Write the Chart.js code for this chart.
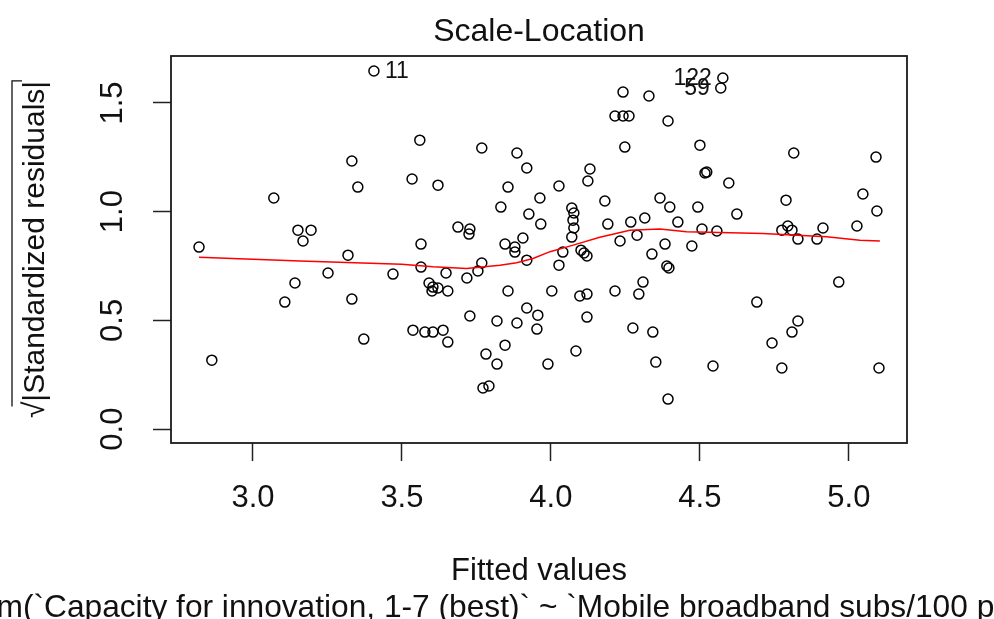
<!DOCTYPE html>
<html>
<head>
<meta charset="utf-8">
<script src="https://cdn.jsdelivr.net/npm/chart.js@4"></script>
<style>
  html, body { margin: 0; padding: 0; background: #fff; }
  canvas { display: block; }
</style>
</head>
<body>
<canvas id="slChart" width="994" height="619"></canvas>
<script>
const fitted = [
  2.819, 2.862, 3.070, 3.107, 3.141, 3.151, 3.195, 3.168, 3.252, 3.319,
  3.332, 3.352, 3.332, 3.372, 3.406, 3.470, 3.534, 3.537, 3.560, 3.564,
  3.564, 3.577, 3.604, 3.638, 3.654, 3.591, 3.604, 3.601, 3.621, 3.654,
  3.621, 3.648, 3.688, 3.728, 3.725, 3.718, 3.728, 3.755, 3.768, 3.768,
  3.772, 3.792, 3.782, 3.819, 3.819, 3.832, 3.846, 3.846, 3.856, 3.856,
  3.879, 3.879, 3.886, 3.886, 3.906, 3.919, 3.919, 3.919, 3.926, 3.956,
  3.953, 3.963, 3.966, 3.990, 4.003, 4.027, 4.027, 4.040, 4.070, 4.077,
  4.074, 4.077, 4.070, 4.084, 4.097, 4.121, 4.101, 4.111, 4.121, 4.121,
  4.124, 4.131, 4.181, 4.191, 4.215, 4.215, 4.242, 4.262, 4.242, 4.232,
  4.248, 4.268, 4.275, 4.289, 4.295, 4.309, 4.315, 4.329, 4.339, 4.342,
  4.352, 4.366, 4.383, 4.389, 4.396, 4.393, 4.393, 4.399, 4.426, 4.473,
  4.493, 4.500, 4.507, 4.517, 4.523, 4.544, 4.557, 4.570, 4.577, 4.597,
  4.624, 4.691, 4.742, 4.775, 4.775, 4.789, 4.795, 4.809, 4.809, 4.815,
  4.829, 4.829, 4.893, 4.913, 4.966, 5.027, 5.047, 5.091, 5.094, 5.101
];
const sqrtStdRes = [
  0.837, 0.317, 1.063, 0.584, 0.672, 0.915, 0.915, 0.865, 0.718, 0.800,
  1.233, 1.113, 0.598, 0.414, 1.647, 0.713, 1.150, 0.455, 1.329, 0.851,
  0.745, 0.446, 0.446, 0.455, 0.400, 0.672, 0.653, 0.635, 0.649, 0.635,
  1.122, 0.718, 0.929, 0.920, 0.897, 0.695, 0.520, 0.727, 0.764, 1.293,
  0.189, 0.198, 0.345, 0.299, 0.497, 1.021, 0.851, 0.386, 1.113, 0.635,
  0.837, 0.814, 1.270, 0.488, 0.879, 1.201, 0.777, 0.557, 0.989, 0.524,
  0.460, 1.063, 0.943, 0.299, 0.635, 1.118, 0.754, 0.814, 1.017, 0.994,
  0.961, 0.925, 0.883, 0.359, 0.612, 0.621, 0.823, 0.810, 0.796, 0.515,
  1.141, 1.196, 1.049, 0.943, 0.635, 1.440, 1.440, 1.440, 1.550, 0.865,
  1.297, 0.952, 0.465, 0.892, 0.621, 0.676, 0.971, 1.532, 0.805, 0.446,
  0.308, 1.063, 0.851, 0.750, 0.741, 1.417, 0.138, 1.021, 0.952, 0.842,
  1.021, 1.306, 0.920, 1.178, 1.182, 0.290, 0.911, 1.569, 1.615, 1.132,
  0.989, 0.584, 0.396, 0.915, 0.281, 1.053, 0.934, 0.915, 0.446, 1.270,
  0.874, 0.497, 0.874, 0.925, 0.676, 0.934, 1.081, 1.251, 1.003, 0.281
];
// red smoother (panel.smooth)
const loessX = [2.819, 3.158, 3.499, 3.604, 3.717, 3.829, 3.885, 3.940, 3.997,
  4.075, 4.164, 4.265, 4.366, 4.455, 4.711, 4.925, 5.037, 5.104];
const loessY = [0.790, 0.773, 0.758, 0.747, 0.739, 0.754, 0.765, 0.785, 0.816,
  0.846, 0.882, 0.915, 0.920, 0.908, 0.900, 0.885, 0.869, 0.865];
const xTicks = [3.0, 3.5, 4.0, 4.5, 5.0];
const yTicks = [0.0, 0.5, 1.0, 1.5];
const idIndex = [14, 117, 118];
const idLabels = ["11", "59", "122"];

const FONT = '"Liberation Sans", Arial, sans-serif';
const INK = "#111";

const rExtras = {
  id: "rExtras",
  afterDraw(chart) {
    const { ctx, chartArea: a, scales: { x, y } } = chart;
    ctx.save();

    // box round the plot region
    ctx.strokeStyle = "#1a1a1a";
    ctx.lineWidth = 1.8;
    ctx.strokeRect(a.left, a.top, a.right - a.left, a.bottom - a.top);

    // y tick labels, rotated like R's las=0
    ctx.fillStyle = INK;
    ctx.font = "31px " + FONT;
    ctx.textAlign = "center";
    ctx.textBaseline = "middle";
    yTicks.forEach(v => {
      ctx.save();
      ctx.translate(a.left - 58, y.getPixelForValue(v));
      ctx.rotate(-Math.PI / 2);
      ctx.fillText(v.toFixed(1), 0, 0);
      ctx.restore();
    });

    // overbar of the square root in the y title
    const tfs = 30;
    ctx.font = tfs + "px " + FONT;
    const ttl = y.options.title.text;
    const w = ctx.measureText(ttl).width;
    const wr = ctx.measureText("\u221A").width;
    const cy = (a.top + a.bottom) / 2;
    const bx = 36 - 0.8 * tfs;
    ctx.lineWidth = 1.3;
    ctx.strokeStyle = INK;
    ctx.beginPath();
    ctx.moveTo(bx, cy + w / 2 - wr * 0.7);
    ctx.lineTo(bx, cy - w / 2);
    ctx.lineTo(bx + 10, cy - w / 2);
    ctx.stroke();

    // ids of the largest residuals
    const mid = (Math.min(...fitted) + Math.max(...fitted)) / 2;
    ctx.font = "23px " + FONT;
    idIndex.forEach((i, k) => {
      const px = x.getPixelForValue(fitted[i]);
      const py = y.getPixelForValue(sqrtStdRes[i]);
      const right = fitted[i] < mid;
      ctx.textAlign = right ? "left" : "right";
      ctx.fillText(idLabels[k], px + (right ? 11 : -11), py + 1);
    });

    // sub caption (model formula), runs off the figure like the original
    ctx.font = "31.7px " + FONT;
    ctx.textAlign = "left";
    ctx.textBaseline = "alphabetic";
    const cap = "lm(`Capacity for innovation, 1-7 (best)` ~ `Mobile broadband subs/100 pop`)";
    ctx.fillText(cap, 44 - ctx.measureText("lm(`").width, 617);

    ctx.restore();
  }
};

new Chart(document.getElementById("slChart"), {
  type: "scatter",
  data: {
    datasets: [
      {
        type: "line",
        data: loessX.map((v, i) => ({ x: v, y: loessY[i] })),
        borderColor: "#ff0000",
        borderWidth: 1.5,
        pointRadius: 0,
        tension: 0,
        fill: false
      },
      {
        data: fitted.map((v, i) => ({ x: v, y: sqrtStdRes[i] })),
        pointStyle: "circle",
        pointRadius: 5,
        backgroundColor: "rgba(0,0,0,0)",
        borderColor: "#000",
        borderWidth: 1.5
      }
    ]
  },
  options: {
    responsive: false,
    animation: false,
    devicePixelRatio: 1,
    layout: { padding: { left: 0, right: 87, top: 0, bottom: 0 } },
    plugins: {
      legend: { display: false },
      tooltip: { enabled: false },
      title: {
        display: true,
        fullSize: false,
        text: "Scale-Location",
        color: INK,
        font: { family: FONT, size: 32, weight: "normal" },
        padding: { top: 13, bottom: 4.6 }
      }
    },
    scales: {
      x: {
        type: "linear",
        min: 2.725,
        max: 5.195,
        afterBuildTicks: s => { s.ticks = xTicks.map(v => ({ value: v })); },
        afterFit: s => { s.height = 176; },
        border: { display: false },
        grid: { drawOnChartArea: false, drawTicks: true, tickLength: 18, tickColor: "#222", tickWidth: 1.5 },
        ticks: {
          color: INK,
          font: { family: FONT, size: 31 },
          padding: 19,
          maxRotation: 0,
          autoSkip: false,
          callback: v => Number(v).toFixed(1)
        },
        title: {
          display: true,
          text: "Fitted values",
          color: INK,
          font: { family: FONT, size: 31 },
          padding: { top: 0, bottom: 29 }
        }
      },
      y: {
        type: "linear",
        min: -0.064,
        max: 1.716,
        afterBuildTicks: s => { s.ticks = yTicks.map(v => ({ value: v })); },
        afterFit: s => { s.width = 171; },
        border: { display: false },
        grid: { drawOnChartArea: false, drawTicks: true, tickLength: 18, tickColor: "#222", tickWidth: 1.5 },
        ticks: { display: false },
        title: {
          display: true,
          text: "\u221A|Standardized residuals|",
          color: INK,
          font: { family: FONT, size: 30 },
          padding: { top: 18, bottom: 0 }
        }
      }
    }
  },
  plugins: [rExtras]
});
</script>
</body>
</html>
